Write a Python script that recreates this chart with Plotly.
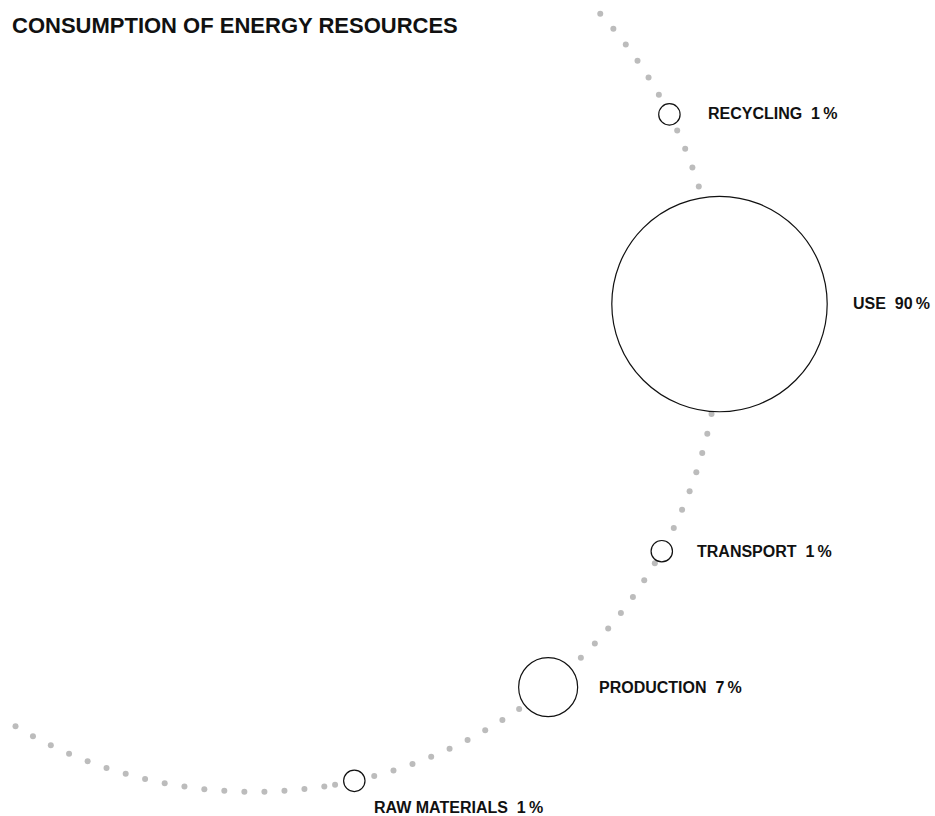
import numpy as np
import plotly.graph_objects as go

# ---------------- data ----------------
title = "CONSUMPTION OF ENERGY RESOURCES"
stages = ["RAW MATERIALS", "PRODUCTION", "TRANSPORT", "USE", "RECYCLING"]
shares = [1, 7, 1, 90, 1]          # percent of energy consumption

# ---------------- layout parameters ----------------
W, H = 935, 816
CX, CY, R = 253.8, 325.6, 466.2                      # big arc (pixel space)
stage_angle = [12.45, 39.15, 61.06, 92.65, 116.94]  # deg from bottom, clockwise
# label anchor offset from circle centre (dx, dy)
label_offset = [(17.5, 26.5), (49.0, 0.0), (33.0, 0.0), (131.0, -1.0), (36.3, -0.5)]
# dotted arc pieces: (start angle, number of dots)
dot_step = 2.465
dot_segments = [(-30.74, 17), (10.04, 29), (107.35, 11)]

FONT = "Liberation Sans, Arial, Helvetica, sans-serif"


def arc_xy(deg):
    a = np.radians(np.asarray(deg, dtype=float))
    return CX + R * np.sin(a), CY + R * np.cos(a)


fig = go.Figure()

# dotted arc
dot_angles = np.concatenate([s + dot_step * np.arange(n) for s, n in dot_segments])
dx, dy = arc_xy(dot_angles)
fig.add_trace(go.Scatter(
    x=dx, y=dy, mode="markers",
    marker=dict(size=6, color="#bcbcbc", opacity=1, line=dict(width=0)),
    hoverinfo="skip", showlegend=False))

# stage circles (area proportional to share)
sx, sy = arc_xy(stage_angle)
sizes = [2 * (11.43 * np.sqrt(v) - 0.73) for v in shares]
fig.add_trace(go.Scatter(
    x=sx, y=sy, mode="markers",
    marker=dict(size=sizes, sizemode="diameter", color="white", opacity=1,
                line=dict(color="#111111", width=1.2)),
    customdata=shares, text=stages,
    hovertemplate="%{text}: %{customdata}%<extra></extra>",
    showlegend=False))

# labels
for name, v, x, y, (ox, oy) in zip(stages, shares, sx, sy, label_offset):
    fig.add_annotation(
        x=x + ox, y=y + oy, xref="x", yref="y",
        text=f"{name}\u00a0\u00a0{v}\u2009%",
        showarrow=False, xanchor="left", yanchor="middle",
        font=dict(family=FONT, size=16, color="#111111", weight="bold"))

# title
fig.add_annotation(
    x=10, y=25, xref="x", yref="y", text=title, showarrow=False,
    xanchor="left", yanchor="middle",
    font=dict(family=FONT, size=22, color="#111111", weight="bold"))

fig.update_xaxes(range=[0, W], visible=False, fixedrange=True)
fig.update_yaxes(range=[H, 0], visible=False, fixedrange=True)
fig.update_layout(
    width=W, height=H, autosize=False,
    margin=dict(l=0, r=0, t=0, b=0),
    paper_bgcolor="white", plot_bgcolor="white",
)

fig.write_html(
    "out.html",
    config={"displayModeBar": False},
    post_script="document.body.style.margin='0';document.body.style.overflow='hidden';",
)
